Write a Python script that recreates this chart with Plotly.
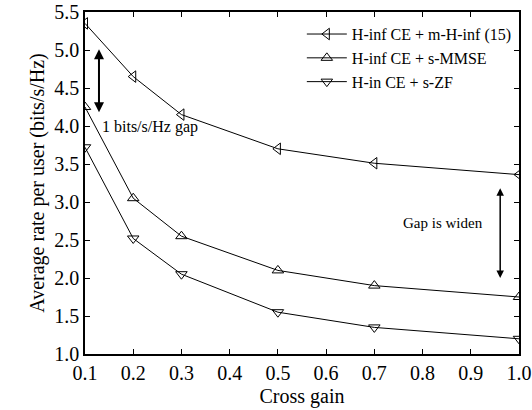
import plotly.graph_objects as go

x = [0.1, 0.2, 0.3, 0.5, 0.7, 1.0]
s1 = [5.35, 4.65, 4.15, 3.70, 3.51, 3.36]
s2 = [4.25, 3.05, 2.55, 2.10, 1.90, 1.75]
s3 = [3.72, 2.52, 2.05, 1.55, 1.35, 1.20]
names = ["H-inf CE + m-H-inf (15)", "H-inf CE + s-MMSE", "H-in CE + s-ZF"]
symbols = ["triangle-left-open", "triangle-up-open", "triangle-down-open"]

font = "Liberation Serif, Times New Roman, serif"
fig = go.Figure()
for ys, nm, sym in zip([s1, s2, s3], names, symbols):
    fig.add_trace(go.Scatter(x=x, y=ys, name=nm, mode="lines+markers",
                             line=dict(color="black", width=1),
                             marker=dict(symbol=sym, size=10, color="black",
                                         line=dict(color="black", width=1))))

axcommon = dict(showgrid=False, zeroline=False, ticks="inside", ticklen=5,
                mirror="ticks", showline=True, linecolor="black", linewidth=1.5,
                tickfont=dict(family=font, size=20, color="black"),
                tickcolor="black", automargin=False)
fig.update_xaxes(range=[0.1, 1.0], dtick=0.1, tickformat=".1f",
                 title=dict(text="Cross gain", font=dict(family=font, size=20, color="black"), standoff=6),
                 **axcommon)
fig.update_yaxes(range=[1.0, 5.5], dtick=0.5, tickformat=".1f",
                 title=dict(text="Average rate per user (bits/s/Hz)", font=dict(family=font, size=20, color="black"), standoff=4),
                 **axcommon)

# annotations
fig.add_annotation(x=0.129, y=4.18, ax=0.129, ay=5.03, xref="x", yref="y", axref="x", ayref="y",
                   showarrow=True, arrowhead=2, arrowside="end+start", arrowsize=1, arrowwidth=2,
                   arrowcolor="black", text="")
fig.add_annotation(x=0.132, y=3.99, xref="x", yref="y", text="1 bits/s/Hz gap", showarrow=False,
                   xanchor="left", font=dict(family=font, size=16, color="black"))
fig.add_annotation(x=0.961, y=2.0, ax=0.961, ay=3.2, xref="x", yref="y", axref="x", ayref="y",
                   showarrow=True, arrowhead=2, arrowside="end+start", arrowsize=1, arrowwidth=1.5,
                   arrowcolor="black", text="")
fig.add_annotation(x=0.843, y=2.72, xref="x", yref="y", text="Gap is widen", showarrow=False,
                   font=dict(family=font, size=15, color="black"))

fig.update_layout(width=532, height=410, margin=dict(l=85, r=13, t=12, b=56),
                  plot_bgcolor="white", paper_bgcolor="white",
                  legend=dict(x=0.995, y=0.985, xanchor="right", yanchor="top",
                              bgcolor="rgba(0,0,0,0)", tracegroupgap=0,
                              font=dict(family=font, size=16, color="black"),
                              itemwidth=40))
fig.write_html("out.html")
